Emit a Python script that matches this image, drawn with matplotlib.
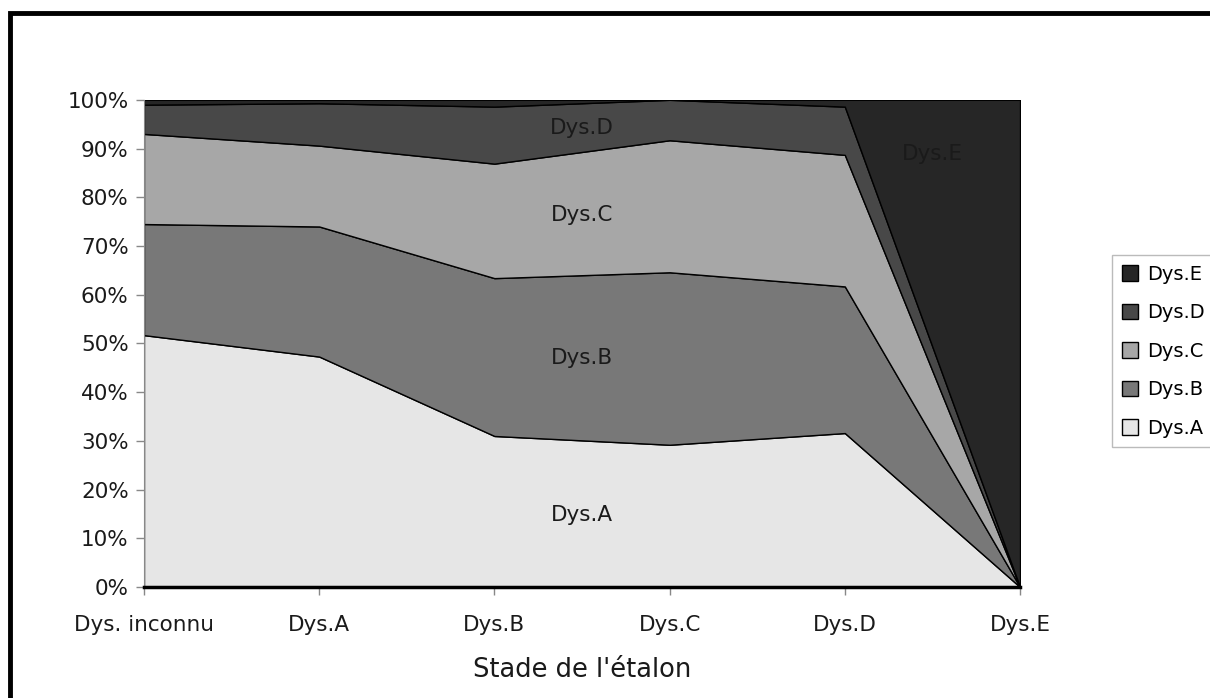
"""
Stacked 100% area chart: distribution of stages per reference stage.
"""

import matplotlib
matplotlib.use("Agg")
import matplotlib.pyplot as plt
import matplotlib.patches as patches
from matplotlib.ticker import PercentFormatter

categories = ["Dys. inconnu", "Dys.A", "Dys.B", "Dys.C", "Dys.D", "Dys.E"]
series_names = ["Dys.A", "Dys.B", "Dys.C", "Dys.D", "Dys.E"]

# shares in % (each column sums to 100)
dys_a = [51.7, 47.3, 31.0, 29.2, 31.6, 0.0]
dys_b = [22.8, 26.7, 32.4, 35.4, 30.1, 0.0]
dys_c = [18.5, 16.6, 23.5, 27.1, 27.0, 0.0]
dys_d = [6.0, 8.7, 11.7, 8.3, 9.9, 0.0]
dys_e = [1.0, 0.7, 1.4, 0.0, 1.4, 100.0]

colors = ["#e6e6e6", "#787878", "#a7a7a7", "#484848", "#262626"]

plt.rcParams["font.family"] = ["DejaVu Sans"]

fig = plt.figure(figsize=(12.1, 6.98), dpi=100)
ax = fig.add_axes([0.119, 0.159, 0.724, 0.698])

x = list(range(len(categories)))

polys = ax.stackplot(
    x,
    dys_a, dys_b, dys_c, dys_d, dys_e,
    colors=colors,
    edgecolor="black",
    linewidth=1.0,
    labels=series_names,
)

ax.set_xlim(0, len(categories) - 1)
ax.set_ylim(0, 100)
ax.set_yticks(range(0, 101, 10))
ax.yaxis.set_major_formatter(PercentFormatter(decimals=0))
ax.set_xticks(x)
ax.set_xticklabels(categories)

for side in ["top", "right"]:
    ax.spines[side].set_visible(False)
ax.spines["left"].set_color("#888888")
ax.spines["bottom"].set_color("black")
ax.spines["bottom"].set_linewidth(2.5)

ax.tick_params(axis="both", colors="#888888", labelcolor="#1a1a1a",
               labelsize=15.5, length=6, width=1)
ax.tick_params(axis="x", pad=14)
ax.tick_params(axis="y", pad=5)

ax.set_xlabel("Stade de l'étalon", fontsize=18.5, color="#1a1a1a",
              labelpad=16)

# labels inside the areas
for txt, xx, yy in [
    ("Dys.A", 2.50, 14.8),
    ("Dys.B", 2.50, 47.0),
    ("Dys.C", 2.50, 76.4),
    ("Dys.D", 2.50, 94.3),
    ("Dys.E", 4.50, 88.9),
]:
    ax.text(xx, yy, txt, ha="center", va="center", fontsize=15.5,
            color="#1a1a1a")

handles, labels = ax.get_legend_handles_labels()
leg = fig.legend(
    handles[::-1], labels[::-1],
    loc="upper left",
    bbox_to_anchor=(1112 / 1210, 1 - 255 / 698),
    fontsize=14,
    frameon=True,
    fancybox=False,
    edgecolor="#aaaaaa",
    handlelength=0.85,
    handleheight=0.85,
    handletextpad=0.45,
    labelspacing=1.0,
    borderpad=0.5,
    borderaxespad=0,
)
leg.get_frame().set_linewidth(1)

# outer frame of the figure (only top and left visible)
frame = patches.Rectangle(
    (10 / 1210, -0.1), 1.2, 1 - 13 / 698 + 0.1,
    transform=fig.transFigure, fill=False,
    edgecolor="black", linewidth=3.5, clip_on=False,
)
fig.patches.append(frame)

fig.savefig("out.png", dpi=100)
